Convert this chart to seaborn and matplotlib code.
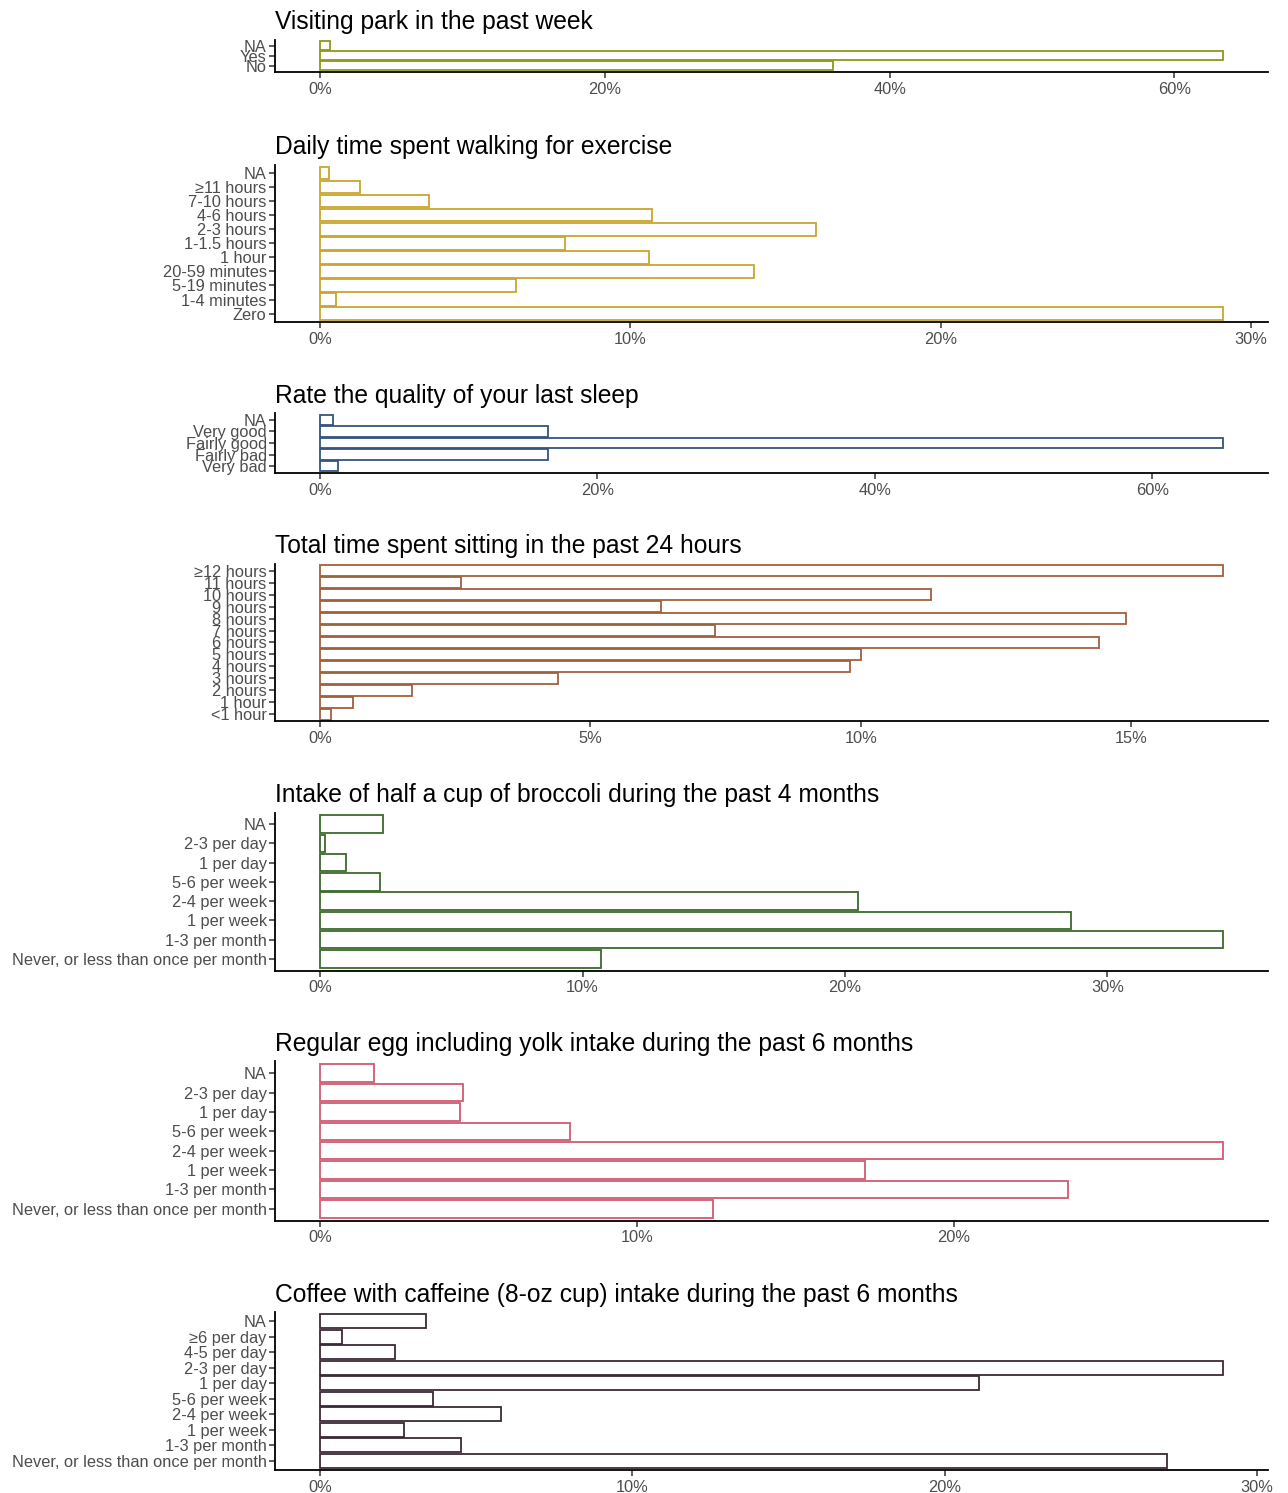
import numpy as np
import pandas as pd
import matplotlib
matplotlib.use("Agg")
import matplotlib.pyplot as plt
from matplotlib.ticker import MultipleLocator, PercentFormatter
import seaborn as sns

# categories listed top to bottom, values in percent
park_cats = ["NA", "Yes", "No"]
park_vals = [0.7, 63.4, 36.0]

walk_cats = ["NA", "≥11 hours", "7-10 hours", "4-6 hours", "2-3 hours", "1-1.5 hours",
             "1 hour", "20-59 minutes", "5-19 minutes", "1-4 minutes", "Zero"]
walk_vals = [0.3, 1.3, 3.5, 10.7, 16.0, 7.9, 10.6, 14.0, 6.3, 0.5, 29.1]

sleep_cats = ["NA", "Very good", "Fairly good", "Fairly bad", "Very bad"]
sleep_vals = [0.9, 16.4, 65.1, 16.4, 1.3]

sit_cats = ["≥12 hours", "11 hours", "10 hours", "9 hours", "8 hours", "7 hours", "6 hours",
            "5 hours", "4 hours", "3 hours", "2 hours", "1 hour", "<1 hour"]
sit_vals = [16.7, 2.6, 11.3, 6.3, 14.9, 7.3, 14.4, 10.0, 9.8, 4.4, 1.7, 0.6, 0.2]

freq_cats = ["NA", "2-3 per day", "1 per day", "5-6 per week", "2-4 per week", "1 per week",
             "1-3 per month", "Never, or less than once per month"]
broccoli_vals = [2.4, 0.2, 1.0, 2.3, 20.5, 28.6, 34.4, 10.7]
egg_vals = [1.7, 4.5, 4.4, 7.9, 28.5, 17.2, 23.6, 12.4]

coffee_cats = ["NA", "≥6 per day", "4-5 per day", "2-3 per day", "1 per day", "5-6 per week",
               "2-4 per week", "1 per week", "1-3 per month", "Never, or less than once per month"]
coffee_vals = [3.4, 0.7, 2.4, 28.9, 21.1, 3.6, 5.8, 2.7, 4.5, 27.1]

titles = ["Visiting park in the past week",
          "Daily time spent walking for exercise",
          "Rate the quality of your last sleep",
          "Total time spent sitting in the past 24 hours",
          "Intake of half a cup of broccoli during the past 4 months",
          "Regular egg including yolk intake during the past 6 months",
          "Coffee with caffeine (8-oz cup) intake during the past 6 months"]

panels = [
    (park_cats, park_vals, "#8c9a17", 20, 39.5, 72),
    (walk_cats, walk_vals, "#c9a62c", 10, 164.5, 322),
    (sleep_cats, sleep_vals, "#34557f", 20, 413, 473),
    (sit_cats, sit_vals, "#a0603e", 5, 563.5, 721.5),
    (freq_cats, broccoli_vals, "#3b6a2b", 10, 812.5, 970.5),
    (freq_cats, egg_vals, "#d05a72", 10, 1061.5, 1220.5),
    (coffee_cats, coffee_vals, "#3a2a35", 10, 1312, 1470),
]

sns.set_theme(style="ticks")
plt.rcParams["font.family"] = ["Liberation Sans", "DejaVu Sans"]

W, H = 1288, 1493
fig = plt.figure(figsize=(W / 100, H / 100), dpi=100)

left, right = 275, 1268
for (cats, vals, col, step, top, bot), title in zip(panels, titles):
    ax = fig.add_axes([left / W, 1 - bot / H, (right - left) / W, (bot - top) / H])
    df = pd.DataFrame({"cat": cats, "pct": vals})
    sns.barplot(data=df, x="pct", y="cat", order=cats, color=col, saturation=1,
                fill=False, width=0.9, linewidth=1.3, ax=ax)
    n = len(cats)
    mx = max(vals)
    ax.set_xlim(-0.05 * mx, 1.05 * mx)
    ax.set_ylim(n - 1 + 0.6, -0.6)
    ax.xaxis.set_major_locator(MultipleLocator(step))
    ax.xaxis.set_major_formatter(PercentFormatter(xmax=100, decimals=0))
    ax.set_xlabel("")
    ax.set_ylabel("")
    ax.set_title(title, loc="left", fontsize=17.7, pad=7.5, color="black")
    sns.despine(ax=ax)
    for s in ["left", "bottom"]:
        ax.spines[s].set_linewidth(1.3)
        ax.spines[s].set_color("black")
    ax.tick_params(axis="y", length=4, width=1.1, color="#333333",
                   labelsize=11.8, labelcolor="#4d4d4d", pad=2)
    ax.tick_params(axis="x", length=4, width=1.1, color="#333333",
                   labelsize=11.8, labelcolor="#4d4d4d", pad=3)

plt.savefig("out.png", dpi=100)
